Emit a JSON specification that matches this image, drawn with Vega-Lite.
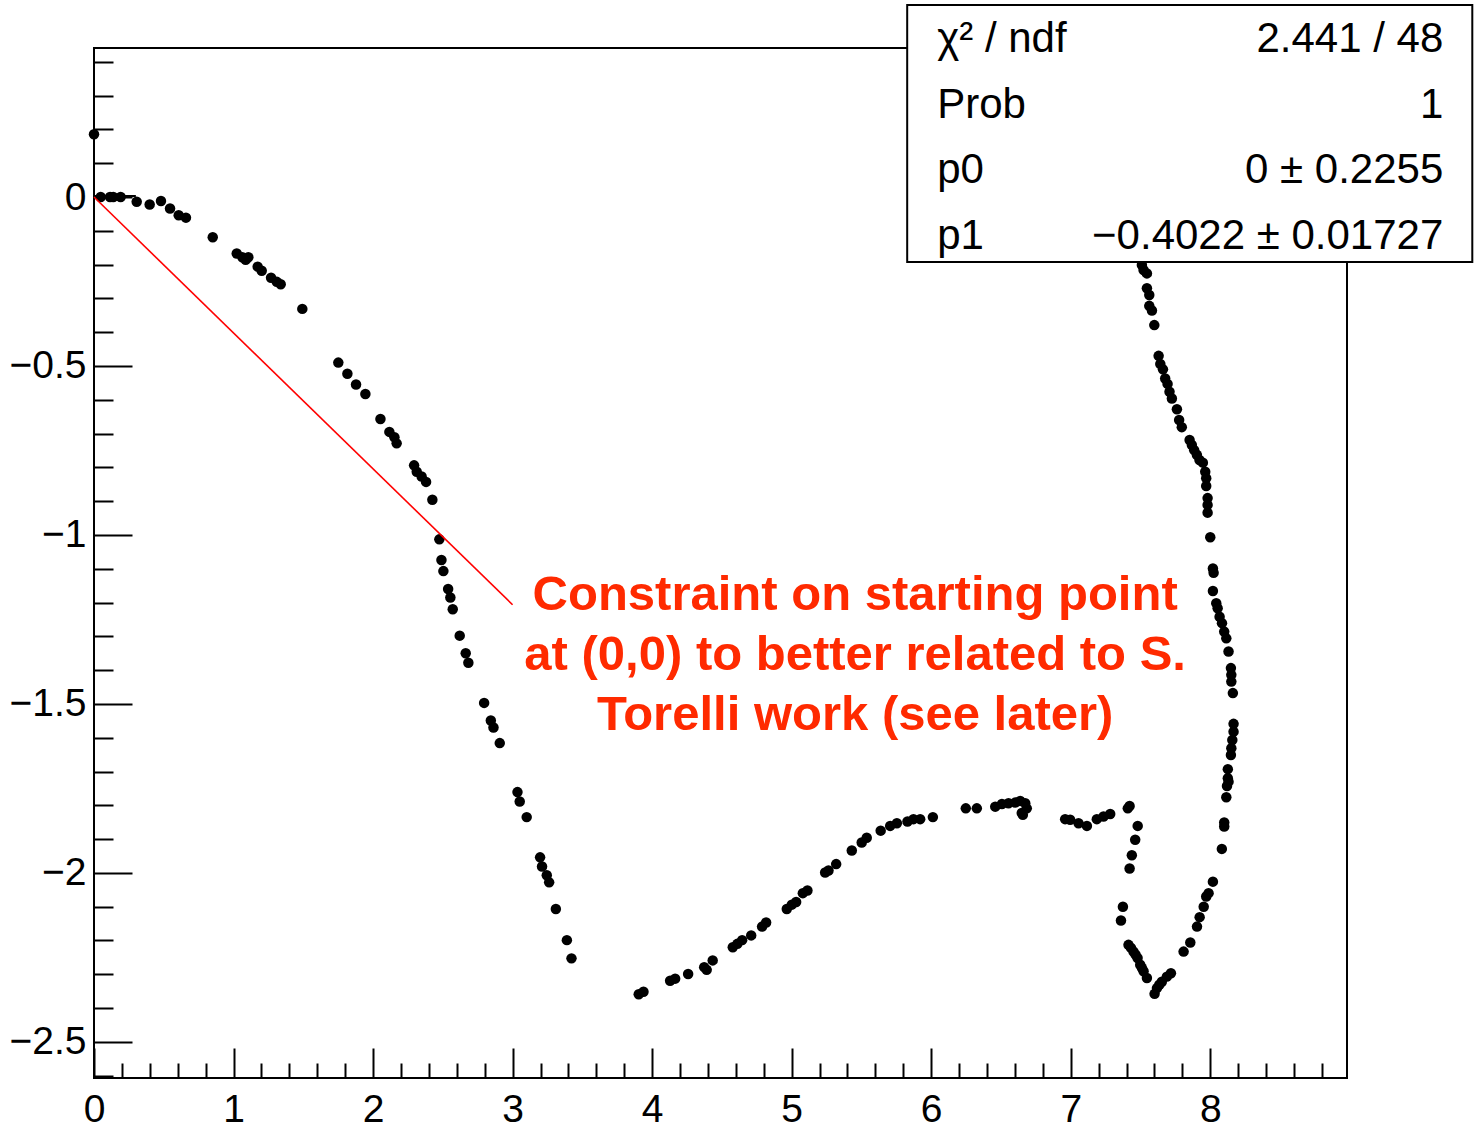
{
  "$schema": "https://vega.github.io/schema/vega-lite/v6.json",
  "width": 1253,
  "height": 1030,
  "autosize": {"type": "none"},
  "padding": {"left": 94, "top": 48, "right": 130, "bottom": 53},
  "background": "white",
  "config": {
    "font": "Liberation Sans",
    "view": {"stroke": "black", "strokeWidth": 2},
    "axis": {
      "grid": false,
      "domain": false,
      "title": null,
      "labelFont": "Liberation Sans",
      "labelFontSize": 39,
      "labelColor": "black",
      "labelFlush": false,
      "labelOverlap": false,
      "tickColor": "black",
      "tickWidth": 2
    }
  },
  "datasets": {
    "points": [
      {"x": 0, "y": 0.186}, {"x": 0.048, "y": 0}, {"x": 0.115, "y": 0}, {"x": 0.138, "y": 0}, {"x": 0.191, "y": 0},
      {"x": 0.306, "y": -0.014}, {"x": 0.399, "y": -0.022}, {"x": 0.48, "y": -0.012}, {"x": 0.545, "y": -0.034},
      {"x": 0.607, "y": -0.054}, {"x": 0.659, "y": -0.061}, {"x": 0.851, "y": -0.119}, {"x": 1.023, "y": -0.167},
      {"x": 1.063, "y": -0.178}, {"x": 1.087, "y": -0.186}, {"x": 1.106, "y": -0.178}, {"x": 1.173, "y": -0.206},
      {"x": 1.202, "y": -0.218}, {"x": 1.269, "y": -0.239}, {"x": 1.31, "y": -0.251}, {"x": 1.338, "y": -0.258},
      {"x": 1.493, "y": -0.331}, {"x": 1.751, "y": -0.49}, {"x": 1.816, "y": -0.523}, {"x": 1.878, "y": -0.555},
      {"x": 1.945, "y": -0.583}, {"x": 2.053, "y": -0.657}, {"x": 2.117, "y": -0.695}, {"x": 2.153, "y": -0.711},
      {"x": 2.169, "y": -0.729}, {"x": 2.294, "y": -0.794}, {"x": 2.313, "y": -0.813}, {"x": 2.348, "y": -0.827},
      {"x": 2.38, "y": -0.843}, {"x": 2.425, "y": -0.896}, {"x": 2.475, "y": -1.013}, {"x": 2.49, "y": -1.074},
      {"x": 2.504, "y": -1.107}, {"x": 2.538, "y": -1.16}, {"x": 2.554, "y": -1.185}, {"x": 2.571, "y": -1.22},
      {"x": 2.621, "y": -1.298}, {"x": 2.664, "y": -1.35}, {"x": 2.683, "y": -1.378}, {"x": 2.796, "y": -1.497},
      {"x": 2.844, "y": -1.549}, {"x": 2.863, "y": -1.57}, {"x": 2.908, "y": -1.616}, {"x": 3.035, "y": -1.761},
      {"x": 3.051, "y": -1.789}, {"x": 3.101, "y": -1.835}, {"x": 3.197, "y": -1.954}, {"x": 3.211, "y": -1.981},
      {"x": 3.245, "y": -2.007}, {"x": 3.262, "y": -2.028}, {"x": 3.31, "y": -2.107}, {"x": 3.389, "y": -2.199},
      {"x": 3.422, "y": -2.253},
      {"x": 3.904, "y": -2.359}, {"x": 3.938, "y": -2.352}, {"x": 4.129, "y": -2.319}, {"x": 4.165, "y": -2.313},
      {"x": 4.258, "y": -2.299}, {"x": 4.373, "y": -2.279}, {"x": 4.391, "y": -2.287}, {"x": 4.434, "y": -2.259},
      {"x": 4.578, "y": -2.22}, {"x": 4.611, "y": -2.21}, {"x": 4.645, "y": -2.199}, {"x": 4.71, "y": -2.185},
      {"x": 4.788, "y": -2.159}, {"x": 4.817, "y": -2.147}, {"x": 4.965, "y": -2.107}, {"x": 5.001, "y": -2.094},
      {"x": 5.032, "y": -2.086}, {"x": 5.08, "y": -2.06}, {"x": 5.113, "y": -2.052}, {"x": 5.24, "y": -1.999},
      {"x": 5.264, "y": -1.993}, {"x": 5.319, "y": -1.974}, {"x": 5.431, "y": -1.934}, {"x": 5.502, "y": -1.91},
      {"x": 5.538, "y": -1.896}, {"x": 5.638, "y": -1.875}, {"x": 5.706, "y": -1.861}, {"x": 5.754, "y": -1.853},
      {"x": 5.83, "y": -1.848}, {"x": 5.873, "y": -1.841}, {"x": 5.921, "y": -1.841}, {"x": 6.012, "y": -1.835},
      {"x": 6.248, "y": -1.809}, {"x": 6.327, "y": -1.809}, {"x": 6.459, "y": -1.804}, {"x": 6.507, "y": -1.796},
      {"x": 6.554, "y": -1.794}, {"x": 6.602, "y": -1.792}, {"x": 6.638, "y": -1.787}, {"x": 6.674, "y": -1.794},
      {"x": 6.685, "y": -1.809}, {"x": 6.657, "y": -1.828}, {"x": 6.649, "y": -1.823}, {"x": 6.96, "y": -1.841},
      {"x": 6.996, "y": -1.843}, {"x": 7.056, "y": -1.853}, {"x": 7.116, "y": -1.861}, {"x": 7.187, "y": -1.841},
      {"x": 7.235, "y": -1.833}, {"x": 7.283, "y": -1.826}, {"x": 7.409, "y": -1.809}, {"x": 7.422, "y": -1.802},
      {"x": 7.48, "y": -1.861}, {"x": 7.462, "y": -1.902}, {"x": 7.438, "y": -1.948}, {"x": 7.422, "y": -1.987},
      {"x": 7.374, "y": -2.1}, {"x": 7.36, "y": -2.141}, {"x": 7.414, "y": -2.213}, {"x": 7.432, "y": -2.222},
      {"x": 7.45, "y": -2.233}, {"x": 7.465, "y": -2.242}, {"x": 7.479, "y": -2.252}, {"x": 7.498, "y": -2.272},
      {"x": 7.51, "y": -2.281}, {"x": 7.522, "y": -2.291}, {"x": 7.546, "y": -2.311}, {"x": 7.601, "y": -2.358},
      {"x": 7.618, "y": -2.341}, {"x": 7.635, "y": -2.331}, {"x": 7.653, "y": -2.322}, {"x": 7.689, "y": -2.307},
      {"x": 7.718, "y": -2.297}, {"x": 7.809, "y": -2.233}, {"x": 7.857, "y": -2.206}, {"x": 7.905, "y": -2.159},
      {"x": 7.924, "y": -2.131}, {"x": 7.953, "y": -2.1}, {"x": 7.971, "y": -2.07}, {"x": 7.988, "y": -2.06},
      {"x": 8.019, "y": -2.026}, {"x": 8.083, "y": -1.929}, {"x": 8.1, "y": -1.863}, {"x": 8.1, "y": -1.851},
      {"x": 8.115, "y": -1.776}, {"x": 8.12, "y": -1.743}, {"x": 8.131, "y": -1.73}, {"x": 8.126, "y": -1.72},
      {"x": 8.126, "y": -1.693}, {"x": 8.148, "y": -1.651}, {"x": 8.151, "y": -1.631}, {"x": 8.158, "y": -1.607},
      {"x": 8.167, "y": -1.582}, {"x": 8.167, "y": -1.559}, {"x": 8.162, "y": -1.468}, {"x": 8.151, "y": -1.434},
      {"x": 8.151, "y": -1.414}, {"x": 8.148, "y": -1.394}, {"x": 8.131, "y": -1.345}, {"x": 8.115, "y": -1.306},
      {"x": 8.1, "y": -1.286}, {"x": 8.084, "y": -1.261}, {"x": 8.067, "y": -1.242}, {"x": 8.053, "y": -1.217},
      {"x": 8.043, "y": -1.202}, {"x": 8.019, "y": -1.166}, {"x": 8.024, "y": -1.112}, {"x": 8.019, "y": -1.099},
      {"x": 8.0, "y": -1.007}, {"x": 7.981, "y": -0.934}, {"x": 7.981, "y": -0.911}, {"x": 7.981, "y": -0.891},
      {"x": 7.971, "y": -0.855}, {"x": 7.971, "y": -0.832}, {"x": 7.964, "y": -0.813}, {"x": 7.947, "y": -0.786},
      {"x": 7.923, "y": -0.778}, {"x": 7.904, "y": -0.763}, {"x": 7.885, "y": -0.749}, {"x": 7.868, "y": -0.734},
      {"x": 7.852, "y": -0.719}, {"x": 7.796, "y": -0.681}, {"x": 7.777, "y": -0.66}, {"x": 7.761, "y": -0.628},
      {"x": 7.725, "y": -0.596}, {"x": 7.708, "y": -0.576}, {"x": 7.694, "y": -0.553}, {"x": 7.677, "y": -0.537},
      {"x": 7.661, "y": -0.51}, {"x": 7.642, "y": -0.494}, {"x": 7.63, "y": -0.47}, {"x": 7.599, "y": -0.379},
      {"x": 7.582, "y": -0.336}, {"x": 7.563, "y": -0.322}, {"x": 7.563, "y": -0.29}, {"x": 7.546, "y": -0.27},
      {"x": 7.546, "y": -0.226}, {"x": 7.522, "y": -0.216}, {"x": 7.51, "y": -0.201}
    ],
    "fit": [
      {"x": 0, "y": 0},
      {"x": 3, "y": -1.2066}
    ],
    "stub": [
      {"x": 0, "y": 0.003},
      {"x": 0.3, "y": 0.003}
    ],
    "statsBox": [
      {"x": 5.828, "x2": 9.878, "y": 0.568, "y2": -0.1923}
    ],
    "statsRows": [
      {"name": "χ² / ndf", "value": "2.441 / 48", "y": 0.429},
      {"name": "Prob", "value": "1", "y": 0.234},
      {"name": "p0", "value": "0 ± 0.2255", "y": 0.0414},
      {"name": "p1", "value": "−0.4022 ± 0.01727", "y": -0.154}
    ],
    "note": [
      {"x": 5.455, "y": -1.222, "text": "Constraint on starting point\nat (0,0) to better related to S.\nTorelli work (see later)"}
    ]
  },
  "layer": [
    {
      "description": "minor ticks, pointing into the frame",
      "data": {"name": "points"},
      "mark": {"type": "point", "opacity": 0},
      "encoding": {
        "x": {"field": "x", "type": "quantitative", "scale": {"domain": [0, 8.98], "nice": false, "zero": false},
              "axis": {"orient": "bottom", "values": [0.2,0.4,0.6,0.8,1.2,1.4,1.6,1.8,2.2,2.4,2.6,2.8,3.2,3.4,3.6,3.8,4.2,4.4,4.6,4.8,5.2,5.4,5.6,5.8,6.2,6.4,6.6,6.8,7.2,7.4,7.6,7.8,8.2,8.4,8.6,8.8], "labels": false, "tickSize": -15}},
        "y": {"field": "y", "type": "quantitative", "scale": {"domain": [-2.607, 0.441], "nice": false, "zero": false},
              "axis": {"orient": "left", "values": [0.4,0.3,0.2,0.1,-0.1,-0.2,-0.3,-0.4,-0.6,-0.7,-0.8,-0.9,-1.1,-1.2,-1.3,-1.4,-1.6,-1.7,-1.8,-1.9,-2.1,-2.2,-2.3,-2.4,-2.6], "labels": false, "tickSize": -19}}
      }
    },
    {
      "description": "major ticks",
      "data": {"name": "points"},
      "mark": {"type": "point", "opacity": 0},
      "encoding": {
        "x": {"field": "x", "type": "quantitative", "scale": {"domain": [0, 8.98], "nice": false, "zero": false},
              "axis": {"orient": "bottom", "values": [0,1,2,3,4,5,6,7,8], "labels": false, "tickSize": -30}},
        "y": {"field": "y", "type": "quantitative", "scale": {"domain": [-2.607, 0.441], "nice": false, "zero": false},
              "axis": {"orient": "left", "values": [0,-0.5,-1,-1.5,-2,-2.5], "labels": false, "tickSize": -38}}
      }
    },
    {
      "description": "measured points with labelled axes",
      "data": {"name": "points"},
      "mark": {"type": "circle", "size": 110, "color": "black", "opacity": 1},
      "encoding": {
        "x": {"field": "x", "type": "quantitative", "scale": {"domain": [0, 8.98], "nice": false, "zero": false},
              "axis": {"orient": "bottom", "values": [0,1,2,3,4,5,6,7,8], "ticks": false, "labelPadding": 12, "format": "d"}},
        "y": {"field": "y", "type": "quantitative", "scale": {"domain": [-2.607, 0.441], "nice": false, "zero": false},
              "axis": {"orient": "left", "values": [0,-0.5,-1,-1.5,-2,-2.5], "ticks": false, "labelPadding": 8, "format": "~g"}}
      }
    },
    {
      "data": {"name": "stub"},
      "mark": {"type": "line", "color": "black", "strokeWidth": 2},
      "encoding": {
        "x": {"field": "x", "type": "quantitative", "axis": null},
        "y": {"field": "y", "type": "quantitative", "axis": null}
      }
    },
    {
      "description": "linear fit constrained through the origin",
      "data": {"name": "fit"},
      "mark": {"type": "line", "color": "#ff0000", "strokeWidth": 1.6},
      "encoding": {
        "x": {"field": "x", "type": "quantitative", "axis": null},
        "y": {"field": "y", "type": "quantitative", "axis": null}
      }
    },
    {
      "data": {"name": "statsBox"},
      "mark": {"type": "rect", "fill": "white", "stroke": "black", "strokeWidth": 2, "clip": false},
      "encoding": {
        "x": {"field": "x", "type": "quantitative", "axis": null},
        "x2": {"field": "x2"},
        "y": {"field": "y", "type": "quantitative", "axis": null},
        "y2": {"field": "y2"}
      }
    },
    {
      "data": {"name": "statsRows"},
      "mark": {"type": "text", "align": "left", "baseline": "alphabetic", "fontSize": 42, "color": "black", "font": "Liberation Sans"},
      "encoding": {
        "x": {"datum": 6.043, "type": "quantitative", "axis": null},
        "y": {"field": "y", "type": "quantitative", "axis": null},
        "text": {"field": "name"}
      }
    },
    {
      "data": {"name": "statsRows"},
      "mark": {"type": "text", "align": "right", "baseline": "alphabetic", "fontSize": 42, "color": "black", "font": "Liberation Sans"},
      "encoding": {
        "x": {"datum": 9.67, "type": "quantitative", "axis": null},
        "y": {"field": "y", "type": "quantitative", "axis": null},
        "text": {"field": "value"}
      }
    },
    {
      "data": {"name": "note"},
      "mark": {"type": "text", "align": "center", "baseline": "alphabetic", "fontSize": 49, "fontWeight": "bold", "color": "#ff2a00", "lineBreak": "\n", "lineHeight": 60, "font": "Liberation Sans"},
      "encoding": {
        "x": {"field": "x", "type": "quantitative", "axis": null},
        "y": {"field": "y", "type": "quantitative", "axis": null},
        "text": {"field": "text"}
      }
    }
  ],
  "resolve": {"axis": {"x": "independent", "y": "independent"}}
}
